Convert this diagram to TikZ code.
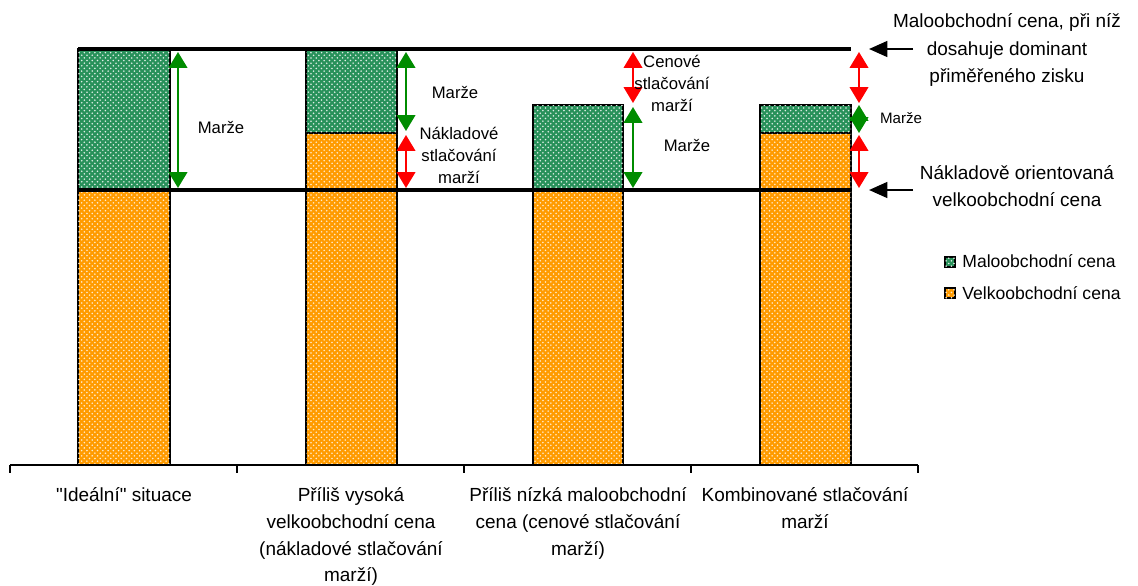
\documentclass[tikz,border=0pt]{standalone}
\usepackage{fontspec}
\setmainfont{Liberation Sans}
\usetikzlibrary{arrows.meta,patterns}

\definecolor{malo}{RGB}{40,145,90}
\definecolor{velko}{RGB}{255,155,0}
\definecolor{zelena}{RGB}{0,140,0}
\definecolor{cervena}{RGB}{255,0,0}
\newcommand{\rovnauv}{\XeTeXglyph\XeTeXcharglyph"0022\relax}

\begin{document}
\begin{tikzpicture}[x=0.02cm,y=-0.02cm,
    malobar/.style={fill=malo,draw=black,line width=0.6pt,postaction={pattern=crosshatch dots,pattern color=white!85!malo}},
    velkobar/.style={fill=velko,draw=black,line width=0.6pt,postaction={pattern=crosshatch dots,pattern color=white!80!velko}},
    uroven/.style={line width=2.1pt},
    zelsip/.style={draw=zelena,line width=1.2pt,{Triangle[length=9pt,width=10.5pt]}-{Triangle[length=9pt,width=10.5pt]}},
    cervsip/.style={draw=cervena,line width=1.2pt,{Triangle[length=9pt,width=10.5pt]}-{Triangle[length=9pt,width=10.5pt]}},
    ukaz/.style={line width=1.3pt,-{Triangle[length=10.5pt,width=9pt]}},
    lbl/.style={font=\fontsize{9.5}{12.5}\selectfont,align=center,inner sep=0pt},
    popis/.style={font=\fontsize{10.8}{15.4}\selectfont,align=center,inner sep=0pt},
    kat/.style={font=\fontsize{10.8}{15.3}\selectfont,align=center,inner sep=0pt,anchor=north}]
  \useasboundingbox[fill=white] (0,0) rectangle (1138,585);

  \draw[velkobar] (78,190) rectangle (170,465);
  \draw[malobar] (78,49) rectangle (170,190);
  \draw[velkobar] (306,133) rectangle (397,465);
  \draw[malobar] (306,49) rectangle (397,133);
  \draw[velkobar] (533,190) rectangle (623,465);
  \draw[malobar] (533,105) rectangle (623,190);
  \draw[velkobar] (760,133) rectangle (851,465);
  \draw[malobar] (760,105) rectangle (851,133);

  \coordinate (horniL) at (78,49);
  \coordinate (horniP) at (851,49);
  \coordinate (dolniL) at (78,190);
  \coordinate (dolniP) at (851,190);
  \draw[uroven] (horniL) -- (horniP);
  \draw[uroven] (dolniL) -- (dolniP);

  \coordinate (osaL) at (10,465);
  \coordinate (osaP) at (918,465);
  \draw[line width=0.6pt] (osaL) -- (osaP);
  \foreach \x in {10,237,464,691,918}
    \draw[line width=0.6pt] (\x,465) -- (\x,473);

  \coordinate (s1a) at (178,52);  \coordinate (s1b) at (178,188);
  \coordinate (s2a) at (406,52);  \coordinate (s2b) at (406,131);
  \coordinate (s2c) at (406,135); \coordinate (s2d) at (406,188);
  \coordinate (s3a) at (633,52);  \coordinate (s3b) at (633,103);
  \coordinate (s3c) at (633,107); \coordinate (s3d) at (633,188);
  \coordinate (s4a) at (859,52);  \coordinate (s4b) at (859,103);
  \coordinate (s4c) at (859,105); \coordinate (s4d) at (859,133);
  \coordinate (s4e) at (859,135); \coordinate (s4f) at (859,188);

  \draw[zelsip] (s1a) -- (s1b);
  \draw[zelsip] (s2a) -- (s2b);
  \draw[cervsip] (s2c) -- (s2d);
  \draw[cervsip] (s3a) -- (s3b);
  \draw[zelsip] (s3c) -- (s3d);
  \draw[cervsip] (s4a) -- (s4b);
  \draw[zelsip] (s4c) -- (s4d);
  \draw[cervsip] (s4e) -- (s4f);

  \node[lbl] (m1) at (221,128) {Marže};
  \node[lbl] (m2) at (455,93) {Marže};
  \node[lbl] (ns) at (459,155) {Nákladové\\stlačování\\marží};
  \node[lbl] (cs) at (672,83) {Cenové\\stlačování\\marží};
  \node[lbl] (m3) at (687,146) {Marže};
  \node[lbl,font=\fontsize{8.6}{10}\selectfont] (m4) at (901,118) {Marže};

  \node[popis] (maloc) at (1007,50) {Maloobchodní cena, při níž\\dosahuje dominant\\přiměřeného zisku};
  \node[popis] (velkoc) at (1017,186) {Nákladově orientovaná\\velkoobchodní cena};
  \coordinate (u1a) at (913,49);  \coordinate (u1b) at (869,49);
  \coordinate (u2a) at (913,190); \coordinate (u2b) at (869,190);
  \draw[ukaz] (u1a) -- (u1b);
  \draw[ukaz] (u2a) -- (u2b);

  \draw[malobar] (945,257) rectangle (955,267);
  \node[anchor=west,inner sep=0pt,font=\fontsize{10}{12}\selectfont] (leg1) at (962,261) {Maloobchodní cena};
  \draw[velkobar] (945,288) rectangle (955,298);
  \node[anchor=west,inner sep=0pt,font=\fontsize{10}{12}\selectfont] (leg2) at (962,293) {Velkoobchodní cena};

  \node[kat] (k1) at (124,487) {\rovnauv Ideální\rovnauv{} situace};
  \node[kat] (k2) at (351,487) {Příliš vysoká\\velkoobchodní cena\\(nákladové stlačování\\marží)};
  \node[kat] (k3) at (578,487) {Příliš nízká maloobchodní\\cena (cenové stlačování\\marží)};
  \node[kat] (k4) at (805,487) {Kombinované stlačování\\marží};
\end{tikzpicture}
\end{document}
